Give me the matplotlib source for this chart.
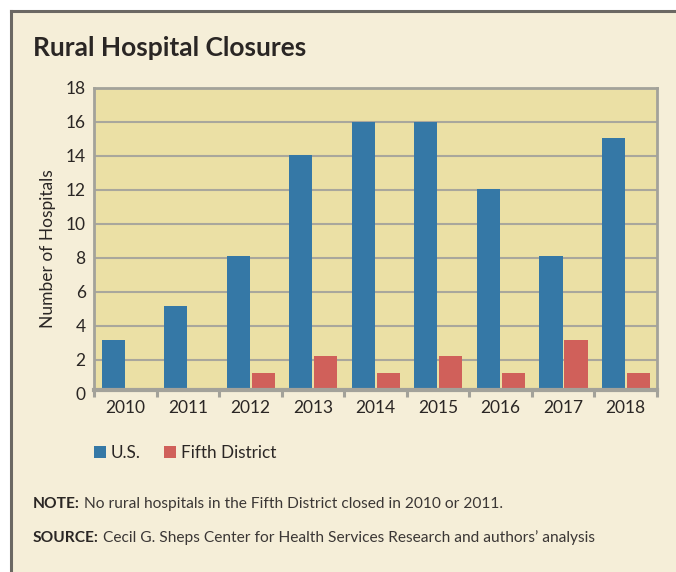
import matplotlib
matplotlib.use("Agg")
import matplotlib.pyplot as plt
import numpy as np
from matplotlib.lines import Line2D
from matplotlib.patches import Rectangle, Patch
from matplotlib.text import Annotation

plt.rcParams['font.family'] = ['Lato', 'DejaVu Sans']

years = ['2010', '2011', '2012', '2013', '2014', '2015', '2016', '2017', '2018']
us_values = [3, 5, 8, 14, 16, 16, 12, 8, 15]
fifth_values = [0, 0, 1, 2, 1, 2, 1, 3, 1]
series_names = ['U.S.', 'Fifth District']
y_ticks = [0, 2, 4, 6, 8, 10, 12, 14, 16, 18]
title = 'Rural Hospital Closures'
y_label = 'Number of Hospitals'
note_label = 'NOTE:'
note_text = 'No rural hospitals in the Fifth District closed in 2010 or 2011.'
source_label = 'SOURCE:'
source_text = 'Cecil G. Sheps Center for Health Services Research and authors\u2019 analysis'

BLUE = '#3578a6'
RED = '#d0605a'
PLOT_BG = '#ebe0a5'
FIG_BG = '#f5eed8'
GRID = '#a9a79c'
SPINE = '#a3a29a'
BORDER = '#6b6863'
TEXT = '#2a2624'

W, H = 676, 572
fig = plt.figure(figsize=(W / 100, H / 100), dpi=100, facecolor='white')

# panel background with top and left border
fig.add_artist(Rectangle((11 / W, 0), 1 - 11 / W, 1 - 11 / H, transform=fig.transFigure,
                         facecolor=FIG_BG, edgecolor='none', zorder=-2))
fig.add_artist(Line2D([11 / W, 1], [1 - 11 / H, 1 - 11 / H], transform=fig.transFigure,
                      color=BORDER, lw=2.2, zorder=-1))
fig.add_artist(Line2D([11 / W, 11 / W], [0, 1 - 11 / H], transform=fig.transFigure,
                      color=BORDER, lw=2.2, zorder=-1))

L, R, T = 94, 657, 88
# plot-area background (drawn beneath everything of the chart)
fig.add_artist(Rectangle((L / W, 1 - 390 / H), (R - L) / W, (390 - T) / H, transform=fig.transFigure,
                         facecolor=PLOT_BG, edgecolor='none', zorder=-0.5))

# axes carrying the value scale, grid and labels
gax = fig.add_axes([L / W, 1 - 394 / H, (R - L) / W, (394 - T) / H], zorder=1)
gax.set_facecolor('none')
gax.set_xlim(-0.5, len(years) - 0.5)
gax.set_ylim(0, 18)
gax.set_yticks(y_ticks)
gax.set_yticklabels([str(v) for v in y_ticks])
gax.set_xticks([])
gax.grid(axis='y', color=GRID, lw=1.5)
gax.yaxis.get_major_ticks()[0].gridline.set_visible(False)
gax.tick_params(axis='y', length=0, pad=6, labelsize=12.5, labelcolor=TEXT)
for s in gax.spines.values():
    s.set_visible(False)
gax.set_ylabel(y_label, fontsize=12.5, color=TEXT, va='center')
gax.yaxis.set_label_coords((48 - L) / (R - L), 1 - (249 - T) / (394 - T))

# axes carrying the bars and frame
ax = fig.add_axes([L / W, 1 - 390 / H, (R - L) / W, (390 - T) / H], zorder=2)
ax.set_facecolor('none')
x = np.arange(len(years))
bw = 0.37
ax.bar(x - 0.195, us_values, width=bw, color=BLUE, zorder=3, label=series_names[0])
ax.bar(x + 0.205, fifth_values, width=bw, color=RED, zorder=3, label=series_names[1])
ax.set_xlim(-0.5, len(years) - 0.5)
ax.set_ylim(0, 18)
ax.set_yticks([])
ax.set_xticks(x)
ax.set_xticklabels(years)
ax.set_xticks(np.arange(len(years) + 1) - 0.5, minor=True)
ax.tick_params(axis='x', which='major', length=0, pad=7.5, labelsize=12.5, labelcolor=TEXT)
ax.tick_params(axis='x', which='minor', length=5, width=2.2, color=SPINE, direction='out')
for side in ['left', 'right', 'top']:
    ax.spines[side].set_color(SPINE)
    ax.spines[side].set_linewidth(2.0)
ax.spines['bottom'].set_color(SPINE)
ax.spines['bottom'].set_linewidth(3.0)
ax.spines['bottom'].set_zorder(4)

fig.text(33 / W, 1 - 48 / H, title, fontsize=19, fontweight='bold', color=TEXT, va='center', ha='left')

handles = [Patch(facecolor=BLUE, edgecolor='none'), Patch(facecolor=RED, edgecolor='none')]
fig.legend(handles, series_names, loc='center left', bbox_to_anchor=(94 / W, 1 - 453 / H),
           ncol=2, frameon=False, fontsize=12.3, handlelength=0.7, handleheight=0.75,
           handletextpad=0.3, columnspacing=1.35, borderpad=0, borderaxespad=0,
           labelcolor=TEXT)

FS = 11.2
t1 = fig.text(33 / W, 1 - 504 / H, note_label, fontsize=FS, fontweight='bold', color=TEXT,
              va='center', ha='left')
fig.add_artist(Annotation(note_text, xy=(1, 0), xycoords=t1, xytext=(3, 0),
               textcoords='offset points', fontsize=FS, color='#3b3735', va='bottom', ha='left'))
t2 = fig.text(33 / W, 1 - 538 / H, source_label, fontsize=FS, fontweight='bold', color=TEXT,
              va='center', ha='left')
fig.add_artist(Annotation(source_text, xy=(1, 0), xycoords=t2, xytext=(3, 0),
               textcoords='offset points', fontsize=FS, color='#3b3735', va='bottom', ha='left'))

fig.savefig('out.png', dpi=100, facecolor=fig.get_facecolor())
